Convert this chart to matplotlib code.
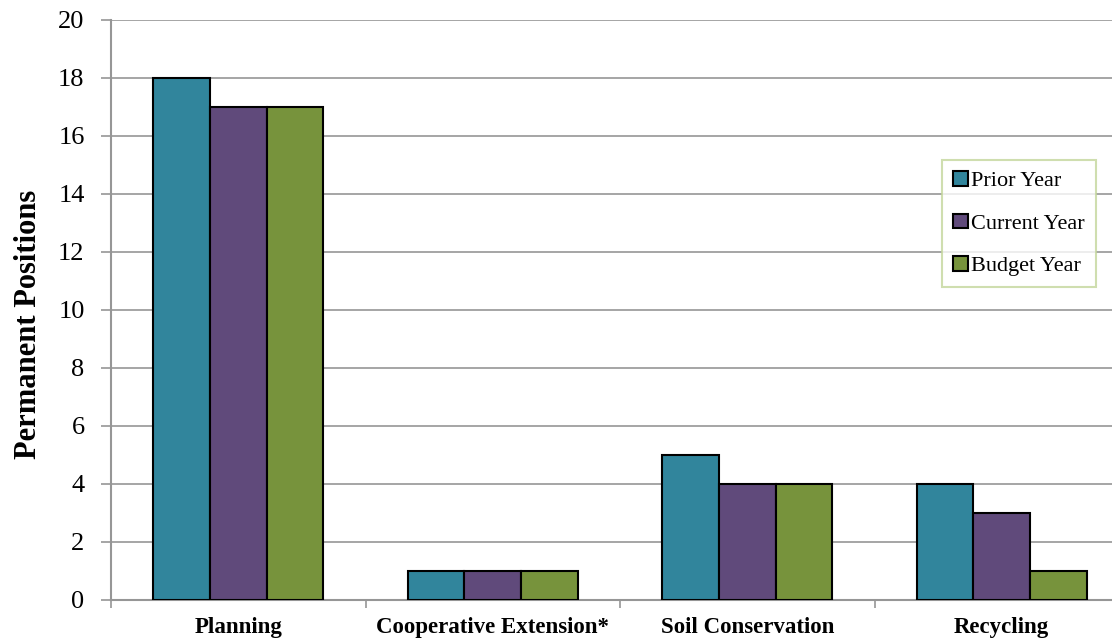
import matplotlib
matplotlib.use("Agg")
import matplotlib.pyplot as plt
import numpy as np

categories = ["Planning", "Cooperative Extension*", "Soil Conservation", "Recycling"]
prior_year = [18, 1, 5, 4]
current_year = [17, 1, 4, 3]
budget_year = [17, 1, 4, 1]
series_names = ["Prior Year", "Current Year", "Budget Year"]
colors = ["#31859C", "#604A7B", "#77933C"]
yticks = list(range(0, 21, 2))

plt.rcParams['font.family'] = ['Liberation Serif', 'DejaVu Serif']

W, H = 1112, 639
fig = plt.figure(figsize=(W / 100, H / 100), dpi=100)
left, right, top, bottom = 111, 1129, 19.5, 600
ax = fig.add_axes([left / W, 1 - bottom / H, (right - left) / W, (bottom - top) / H])

x = np.arange(len(categories))
bw = 1 / 4.5
for i, (vals, name, c) in enumerate(zip([prior_year, current_year, budget_year], series_names, colors)):
    ax.bar(x + (i - 1) * bw, vals, width=bw, color=c, edgecolor="black", linewidth=1.5,
           label=name, zorder=3)

ax.set_xlim(-0.5, len(categories) - 0.5)
ax.set_ylim(0, 20)
ax.set_yticks(yticks)
ax.yaxis.grid(True, color="#969696", linewidth=1.2, zorder=0)
ax.set_axisbelow(True)

ax.set_xticks(np.arange(-0.5, len(categories) + 0.5, 1), minor=False)
ax.set_xticklabels([])
ax.set_xticks(x, minor=True)
ax.set_xticklabels(categories, minor=True, fontweight="bold", fontsize=16.5)
ax.tick_params(axis="x", which="minor", length=0, pad=12)
ax.tick_params(axis="x", which="major", length=6, width=1.2, color="#969696", direction="out")
ax.tick_params(axis="y", length=7, width=1.2, color="#969696", labelsize=19, pad=12)

for s in ["top", "right"]:
    ax.spines[s].set_visible(False)
for s in ["left", "bottom"]:
    ax.spines[s].set_color("#969696")
    ax.spines[s].set_linewidth(1.5)

ax.set_ylabel("Permanent Positions", fontsize=22, fontweight="bold")
ax.yaxis.set_label_coords((43 - left) / (right - left), 1 - (324 - top) / (bottom - top))

leg = ax.legend(loc="upper left", bbox_to_anchor=((942 - left) / (right - left), 1 - (160 - top) / (bottom - top)),
                frameon=True, fancybox=False, fontsize=16, handlelength=0.65, handleheight=0.65,
                handletextpad=0.15, labelspacing=1.0, borderpad=0.5, borderaxespad=0)
leg.get_frame().set_edgecolor("#C3D69B")
leg.get_frame().set_linewidth(1.5)

fig.savefig("out.png", dpi=100)
